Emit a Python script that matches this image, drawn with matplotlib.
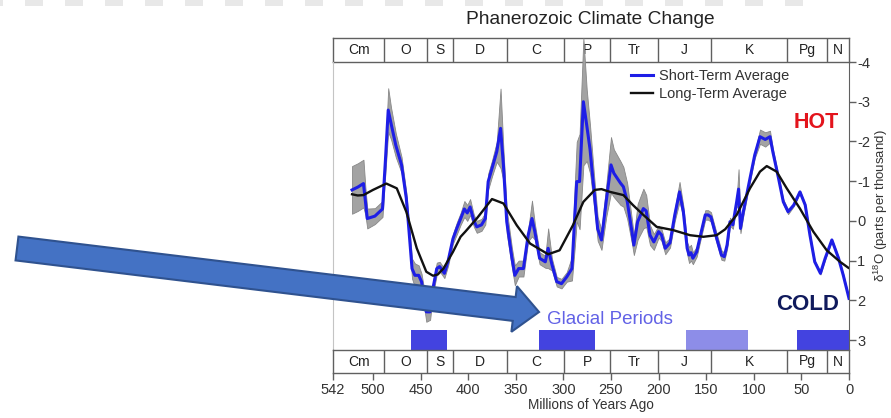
import matplotlib
matplotlib.use("Agg")
import matplotlib.pyplot as plt
from matplotlib.patches import FancyArrow
import numpy as np

plt.rcParams['font.family'] = ['Liberation Sans', 'DejaVu Sans']
plt.rcParams['axes.unicode_minus'] = False
plt.rcParams['mathtext.default'] = 'regular'

# DANE: okresy geologiczne (granice w mln lat temu)
granice_okresow = [542, 488, 443, 416, 359, 299, 251, 201, 145, 65, 23, 0]
okresy = ["Cm", "O", "S", "D", "C", "P", "Tr", "J", "K", "Pg", "N"]

# Srednia krotkoterminowa d18O (wiek, wartosc, polowa szerokosci pasma niepewnosci)
wiek_krotka = [522, 516, 510, 508, 506, 498, 490, 487, 484, 481, 476, 470, 465, 462, 459,
               456, 452, 449, 444, 440, 437, 433, 430, 425, 421, 416, 412, 408, 404, 401,
               398, 394, 391, 386, 382, 379, 375, 370, 366, 363, 359.5, 354, 351, 347, 342,
               337, 333, 330, 325, 319, 316, 312, 307, 302, 296.5, 291, 288, 286, 283, 279,
               275.5, 272, 268, 264, 260, 255, 250, 247, 240, 237, 233, 228, 226, 222, 216,
               213, 209, 205, 200, 197, 193, 188, 183, 178, 174, 170, 168, 166, 164, 160,
               156, 151, 148, 145, 139, 134, 131, 128, 125, 122, 118, 116, 114, 111, 104,
               99, 93.5, 88, 83, 80, 74, 69, 64, 58, 51.5, 46, 41, 36, 30, 25,
               18, 11, 6, 0]
d18o_krotka = [-0.78, -0.85, -0.94, -0.5, -0.06, -0.12, -0.3, -1.5, -2.79, -2.45, -1.9, -1.41, -0.57, 0.3, 1.2,
               1.37, 1.37, 1.53, 2.29, 2.29, 1.7, 1.2, 1.15, 1.32, 1.0, 0.45, 0.19, -0.05, -0.3, -0.2,
               -0.35, 0.0, 0.15, 0.1, -0.06, -0.99, -1.32, -1.74, -2.33, -1.41, 0.02, 0.94, 1.37, 1.2, 1.2,
               0.36, -0.06, 0.27, 0.94, 1.03, 0.69, 1.1, 1.53, 1.58, 1.41, 1.2, -0.15, -0.99, -0.99, -3.0,
               -2.41, -1.8, -0.8, 0.2, 0.48, -0.5, -1.41, -1.2, -0.95, -0.86, -0.5, 0.27, 0.61, 0.02, -0.31,
               -0.25, 0.36, 0.53, 0.27, 0.35, 0.69, 0.55, -0.15, -0.73, -0.23, 0.69, 0.86, 0.8, 0.94, 0.78,
               0.36, -0.15, -0.15, -0.1, 0.44, 0.86, 0.9, 0.6, 0.02, 0.1, -0.48, -0.8, 0.19, -0.23, -1.07,
               -1.66, -2.12, -2.05, -2.12, -1.74, -1.07, -0.48, -0.23, -0.4, -0.73, -0.4, 0.36, 1.03, 1.32, 0.94,
               0.48, 0.94, 1.37, 1.95]
niepewnosc = [0.6, 0.6, 0.6, 0.35, 0.25, 0.2, 0.2, 0.3, 0.55, 0.4, 0.3, 0.2, 0.15, 0.2, 0.25,
              0.3, 0.25, 0.2, 0.25, 0.2, 0.15, 0.15, 0.12, 0.12, 0.12, 0.12, 0.15, 0.15, 0.2, 0.2,
              0.2, 0.15, 0.15, 0.15, 0.15, 0.2, 0.2, 0.25, 1.0, 0.4, 0.3, 0.25, 0.25, 0.2, 0.2,
              0.15, 0.45, 0.2, 0.15, 0.15, 0.5, 0.15, 0.12, 0.12, 0.12, 0.3, 0.8, 1.0, 1.2, 1.6,
              0.9, 0.6, 0.4, 0.3, 0.25, 0.4, 0.7, 0.6, 0.55, 0.5, 0.45, 0.3, 0.25, 0.45, 0.5,
              0.4, 0.25, 0.2, 0.15, 0.15, 0.15, 0.12, 0.15, 0.25, 0.15, 0.15, 0.2, 0.2, 0.15, 0.12,
              0.12, 0.12, 0.12, 0.12, 0.12, 0.12, 0.1, 0.1, 0.1, 0.1, 0.1, 0.5, 0.12, 0.1, 0.08,
              0.08, 0.18, 0.18, 0.15, 0.08, 0.06, 0.06, 0.06, 0.03, 0.03, 0.03, 0.03, 0.03, 0.03, 0.03,
              0.03, 0.03, 0.03, 0.03]

# Srednia dlugoterminowa
wiek_dluga = [522, 516, 510, 500, 486, 475, 465, 454, 444, 437, 432, 426, 416, 408, 403,
              391, 375, 363, 349, 335, 316, 304, 290, 279, 267, 260, 251, 237, 227, 216,
              202, 185, 167, 153, 139, 130, 118, 104, 93.5, 86.4, 76, 65.4, 51.5, 37.5, 23.4,
              9.4, 0.7]
d18o_dluga = [-0.67, -0.64, -0.65, -0.78, -0.94, -0.82, -0.23, 0.69, 1.28, 1.38, 1.35, 1.2, 0.78, 0.4, 0.27,
              -0.06, -0.55, -0.44, 0.11, 0.57, 0.84, 0.74, 0.11, -0.48, -0.78, -0.8, -0.73, -0.65, -0.4, -0.15,
              0.15, 0.23, 0.36, 0.4, 0.36, 0.21, -0.15, -0.82, -1.24, -1.38, -1.24, -0.82, -0.31, 0.27, 0.74,
              1.03, 1.18]

# Okresy zlodowacen
zlodowacenie_start = [460, 326, 171, 55]
zlodowacenie_koniec = [422, 267, 106, 0]
zlodowacenie_kolor = ['#4343e0', '#4343e0', '#8d8de8', '#4343e0']

W, H = 891, 418
fig = plt.figure(figsize=(W / 100, H / 100), dpi=100)
fig.patch.set_facecolor('white')

L, R = 333, 849
def box(top, bottom):
    return [L / W, 1 - bottom / H, (R - L) / W, (bottom - top) / H]

ax_gora = fig.add_axes(box(38, 62))
ax = fig.add_axes(box(62, 350))
ax_dol = fig.add_axes(box(350, 373))

kolor_ramki = '#606060'

# KROK 1: paski z okresami
for a in (ax_gora, ax_dol):
    a.set_xlim(542, 0)
    a.set_ylim(0, 1)
    a.set_yticks([])
    for s in a.spines.values():
        s.set_color(kolor_ramki)
        s.set_linewidth(1.0)
    for g in granice_okresow[1:-1]:
        a.axvline(g, color=kolor_ramki, linewidth=1.0)
    for i, nazwa in enumerate(okresy):
        srodek = (granice_okresow[i] + granice_okresow[i + 1]) / 2
        a.text(srodek, 0.5, nazwa, ha='center', va='center', fontsize=10, color='#222222')

ax_gora.set_xticks([])
ax_dol.set_xticks([542, 500, 450, 400, 350, 300, 250, 200, 150, 100, 50, 0])
ax_dol.tick_params(axis='x', direction='out', length=5, width=1, color=kolor_ramki,
                   labelsize=10.5, labelcolor='#333333', pad=2)
ax_dol.set_xlabel('Millions of Years Ago', fontsize=9.8, color='#333333', labelpad=1)

# KROK 2: glowny wykres
ax.set_xlim(542, 0)
ax.set_ylim(3.25, -4)
ax.set_facecolor('none')

krotka = np.array(d18o_krotka)
pasmo = np.array(niepewnosc)
ax.fill_between(wiek_krotka, krotka - pasmo, krotka + pasmo, facecolor='#a3a3a3',
                edgecolor='#888888', linewidth=0.6, zorder=1, clip_on=False)
ax.plot(wiek_krotka, d18o_krotka, color='#1e1ee6', linewidth=2.2, zorder=3,
        solid_joinstyle='round', label='Short-Term Average')
ax.plot(wiek_dluga, d18o_dluga, color='#111111', linewidth=1.7, zorder=4,
        solid_joinstyle='round', label='Long-Term Average')

for s, k, c in zip(zlodowacenie_start, zlodowacenie_koniec, zlodowacenie_kolor):
    ax.bar(k, 0.5, width=s - k, bottom=2.75, align='edge', color=c, linewidth=0, zorder=2)

ax.spines['top'].set_visible(False)
ax.spines['bottom'].set_visible(False)
ax.spines['left'].set_color('#c4c4c4')
ax.spines['right'].set_color(kolor_ramki)
ax.set_xticks([])
ax.yaxis.tick_right()
ax.set_yticks(range(-4, 4))
ax.tick_params(axis='y', direction='out', length=5, width=1, color=kolor_ramki,
               labelsize=10.5, labelcolor='#333333', pad=1)
ax.yaxis.set_label_position('right')
ax.set_ylabel('δ$^{18}$O (parts per thousand)', fontsize=9.5, color='#333333',
              rotation=90, labelpad=1)

leg = ax.legend(loc='upper left', bbox_to_anchor=(631 / W, 1 - 69 / H),
                bbox_transform=fig.transFigure, frameon=False, fontsize=10.5,
                handlelength=1.5, handletextpad=0.4, labelspacing=0.3,
                borderpad=0, borderaxespad=0)
for t in leg.get_texts():
    t.set_color('#333333')

ax.text(839 / W, 1 - 122 / H, 'HOT', transform=fig.transFigure, ha='right', va='center',
        fontsize=15.5, fontweight='bold', color='#e3141c')
ax.text(839 / W, 1 - 305 / H, 'COLD', transform=fig.transFigure, ha='right', va='center',
        fontsize=16, fontweight='bold', color='#101a5c')
ax.text(547 / W, 1 - 320 / H, 'Glacial Periods', transform=fig.transFigure, ha='left',
        va='center', fontsize=13.5, color='#6262e6')

fig.text(590 / W, 1 - 20 / H, 'Phanerozoic Climate Change', ha='center', va='center',
         fontsize=13.8, color='#222222')

# KROK 3: warstwa z ozdobnikami (strzalka, paski u gory)
nakladka = fig.add_axes([0, 0, 1, 1], zorder=10)
nakladka.set_xlim(0, W)
nakladka.set_ylim(H, 0)
nakladka.axis('off')
nakladka.patch.set_alpha(0)
nakladka.broken_barh([(x, 18) for x in range(-15, W - 80, 40)], (0, 6),
                     facecolors='#e8e8e8')
nakladka.add_patch(FancyArrow(17, 248.5, 522, 63.5, width=24, head_width=46,
                              head_length=25, length_includes_head=True,
                              facecolor='#4472c4', edgecolor='#2f528f', linewidth=1.5))

fig.savefig('out.png', dpi=100)
